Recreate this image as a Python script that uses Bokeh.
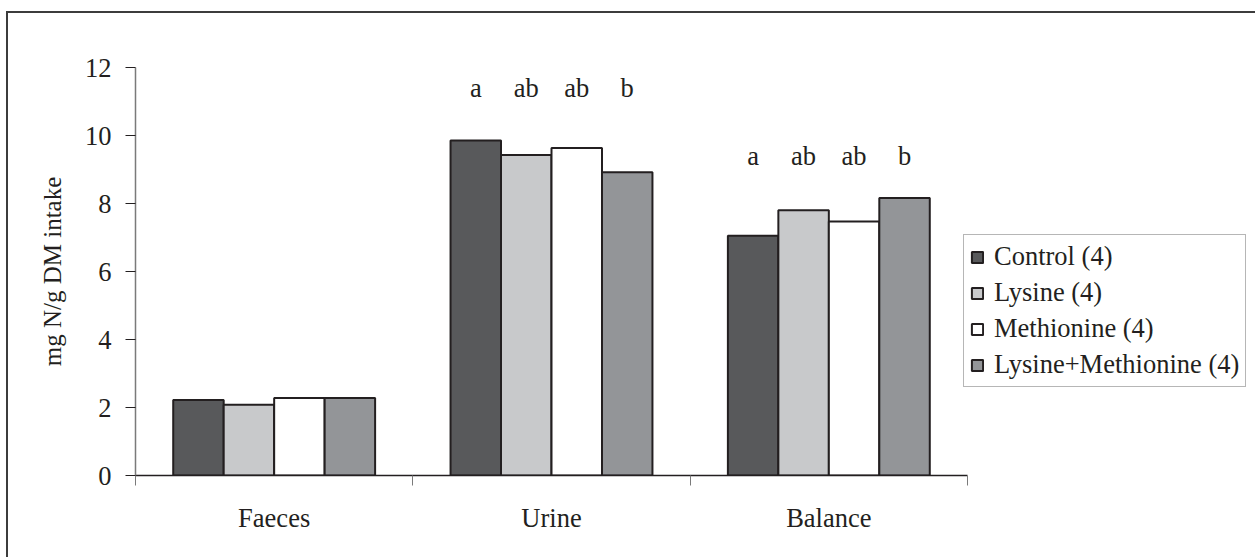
from bokeh.plotting import figure
from bokeh.models import FixedTicker, Legend, LegendItem, ColumnDataSource, Range1d
from bokeh.core.properties import value
from bokeh.embed import file_html
from bokeh.resources import INLINE

categories = ["Faeces", "Urine", "Balance"]
series = ["Control (4)", "Lysine (4)", "Methionine (4)", "Lysine+Methionine (4)"]
control = [2.22, 9.85, 7.05]
lysine = [2.08, 9.43, 7.80]
methionine = [2.28, 9.63, 7.47]
lys_met = [2.28, 8.92, 8.16]
letters_urine = ["a", "ab", "ab", "b"]
letters_balance = ["a", "ab", "ab", "b"]
y_ticks = [0, 2, 4, 6, 8, 10, 12]

colors = ["#58595b", "#c8c9cb", "#ffffff", "#939598"]
FONT = "Liberation Serif"
FS = "26.5px"

W, H = 1249, 546
ML, MT = 127, 54
MB = H - MT - 408
axis_px = 832  # pixel width of the three category slots
frame_px = W - ML
x_end = len(categories) * frame_px / axis_px

p = figure(width=W, height=H, output_backend="svg", toolbar_location=None,
           x_range=Range1d(0, x_end), y_range=Range1d(0, 12),
           min_border_left=ML, min_border_right=0, min_border_top=MT, min_border_bottom=MB)
p.styles = {"border-left": "2px solid #3c3c3c", "border-top": "2px solid #3c3c3c",
            "margin-top": "11px", "margin-left": "6px"}
p.outline_line_color = None
p.xgrid.grid_line_color = None
p.ygrid.grid_line_color = None
p.background_fill_color = "white"

bar_w = 0.182
offsets = [-0.273, -0.091, 0.091, 0.273]
all_vals = [control, lysine, methionine, lys_met]
renderers = []
for vals, off, col in zip(all_vals, offsets, colors):
    src = ColumnDataSource(dict(x=[i + 0.5 + off for i in range(len(categories))], top=vals))
    r = p.vbar(x="x", top="top", bottom=0, width=bar_w, source=src, fill_color=col,
               line_color="#231f20", line_width=2)
    renderers.append(r)

# significance letters
lx, ly, lt = [], [], []
for off, t in zip(offsets, letters_urine):
    lx.append(1 + 0.5 + off); ly.append(11.4); lt.append(t)
for off, t in zip(offsets, letters_balance):
    lx.append(2 + 0.5 + off); ly.append(9.4); lt.append(t)
p.text(x=lx, y=ly, text=lt, text_font=value(FONT), text_font_size=FS,
       text_align="center", text_baseline="alphabetic", text_color="#231f20")

# x axis
xa = p.xaxis[0]
xa.bounds = (0, len(categories))
xa.ticker = FixedTicker(ticks=[i + 0.5 for i in range(len(categories))],
                        minor_ticks=list(range(len(categories) + 1)))
xa.major_label_overrides = {i + 0.5: c for i, c in enumerate(categories)}
xa.major_tick_line_color = None
xa.minor_tick_out = 10
xa.minor_tick_in = 0
xa.minor_tick_line_color = "#7a7a7a"
xa.axis_line_color = "#231f20"
xa.axis_line_width = 1.5
xa.major_label_text_font = FONT
xa.major_label_text_font_size = FS
xa.major_label_text_color = "#231f20"
xa.major_label_standoff = 17

# y axis
ya = p.yaxis[0]
ya.ticker = FixedTicker(ticks=y_ticks)
ya.minor_tick_line_color = None
ya.major_tick_out = 10
ya.major_tick_in = 0
ya.major_tick_line_color = "#231f20"
ya.axis_line_color = "#7a7a7a"
ya.axis_line_width = 1.5
ya.major_label_text_font = FONT
ya.major_label_text_font_size = FS
ya.major_label_text_color = "#231f20"
ya.major_label_standoff = 14
ya.axis_label = "mg N/g DM intake"
ya.axis_label_text_font = FONT
ya.axis_label_text_font_size = "25px"
ya.axis_label_text_font_style = "normal"
ya.axis_label_text_color = "#231f20"
ya.axis_label_standoff = 16

legend = Legend(items=[LegendItem(label=s, renderers=[r]) for s, r in zip(series, renderers)],
                location=(828, 88), orientation="vertical")
legend.label_text_font = FONT
legend.label_text_font_size = FS
legend.label_text_color = "#231f20"
legend.glyph_width = 14
legend.glyph_height = 14
legend.label_standoff = 10
legend.label_height = 30
legend.spacing = 5
legend.padding = 6
legend.margin = 0
legend.border_line_color = "#6d6d6d"
legend.border_line_width = 1.5
legend.background_fill_alpha = 1
p.add_layout(legend, "center")

open("out.html", "w").write(file_html(p, INLINE))
